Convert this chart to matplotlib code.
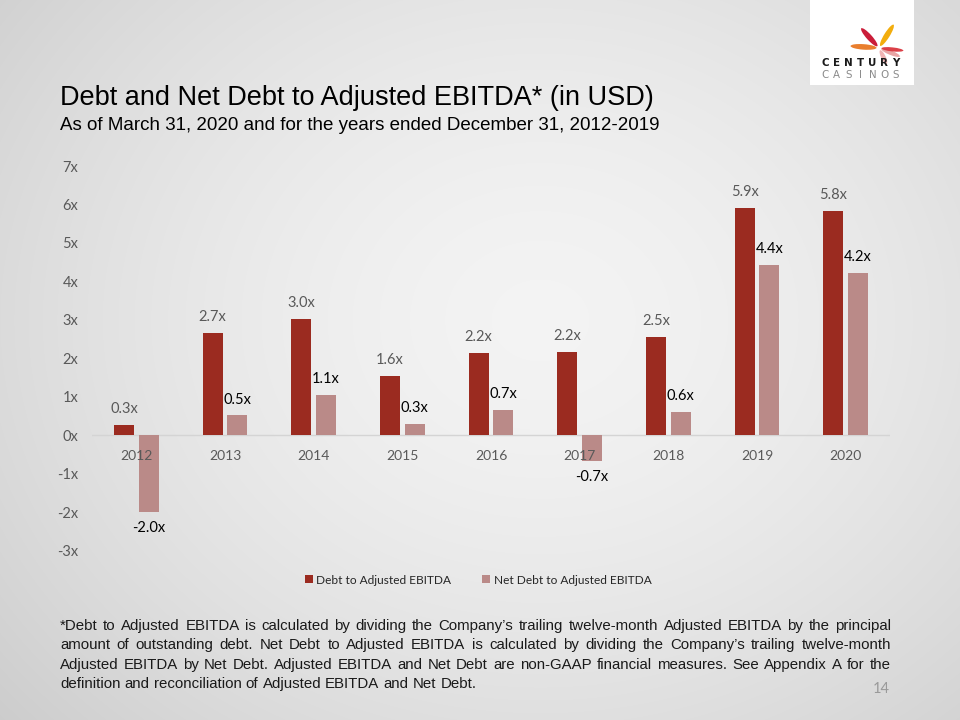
import numpy as np
import matplotlib
matplotlib.use("Agg")
import matplotlib.pyplot as plt
from matplotlib.patches import Rectangle, Ellipse

# ---------------- data ----------------
years = ['2012', '2013', '2014', '2015', '2016', '2017', '2018', '2019', '2020']
debt_to_ebitda = [0.28, 2.67, 3.03, 1.55, 2.15, 2.18, 2.55, 5.91, 5.83]
net_debt_to_ebitda = [-1.99, 0.52, 1.06, 0.31, 0.67, -0.67, 0.62, 4.43, 4.22]
debt_labels = ['0.3x', '2.7x', '3.0x', '1.6x', '2.2x', '2.2x', '2.5x', '5.9x', '5.8x']
net_labels = ['-2.0x', '0.5x', '1.1x', '0.3x', '0.7x', '-0.7x', '0.6x', '4.4x', '4.2x']
y_ticks = [-3, -2, -1, 0, 1, 2, 3, 4, 5, 6, 7]
y_tick_labels = ['-3x', '-2x', '-1x', '0x', '1x', '2x', '3x', '4x', '5x', '6x', '7x']
series_names = ['Debt to Adjusted EBITDA', 'Net Debt to Adjusted EBITDA']

title = 'Debt and Net Debt to Adjusted EBITDA* (in USD)'
subtitle = 'As of March 31, 2020 and for the years ended December 31, 2012-2019'
footnote_lines = [
    '*Debt to Adjusted EBITDA is calculated by dividing the Company\u2019s trailing twelve-month Adjusted EBITDA by the principal',
    'amount of outstanding debt. Net Debt to Adjusted EBITDA is calculated by dividing the Company\u2019s trailing twelve-month',
    'Adjusted EBITDA by Net Debt. Adjusted EBITDA and Net Debt are non-GAAP financial measures. See Appendix A for the',
    'definition and reconciliation of Adjusted EBITDA and Net Debt.',
]
page_number = '14'
logo_word1 = 'CENTURY'
logo_word2 = 'CASINOS'

DARK = '#9B2B20'
LIGHT = '#BA8A88'
GRAY = '#595959'
W, H = 960, 720

fig = plt.figure(figsize=(9.6, 7.2), dpi=100)

# ---------------- background gradient ----------------
bg = fig.add_axes([0, 0, 1, 1], zorder=-10)
yy, xx = np.mgrid[0:H, 0:W]
r = np.sqrt(((xx - 540) / 620.0) ** 2 + ((yy - 320) / 520.0) ** 2)
val = 0.955 - 0.12 * np.clip(r, 0, 1.4) ** 1.6
img = np.dstack([val, val, val])
bg.imshow(img, extent=[0, W, H, 0], aspect='auto')
bg.set_xlim(0, W)
bg.set_ylim(H, 0)
bg.axis('off')

# logo box
bg.add_patch(Rectangle((810, 0), 104, 85, facecolor='white', edgecolor='none'))
cx, cy = 879, 48
petals = [  # (angle deg, length, width, colour)
    (132, 24, 5.5, '#C8102E'),
    (58, 25, 5.5, '#F2A900'),
    (176, 26, 5.5, '#E87722'),
    (-22, 20, 4.5, '#E8A0A0'),
    (-64, 15, 4.5, '#F0B0B0'),
    (-6, 22, 4.0, '#D9363E'),
]
for ang, ln, wd, c in petals:
    a = np.deg2rad(ang)
    d = 2.5 + ln / 2
    bg.add_patch(Ellipse((cx + d * np.cos(a), cy - d * np.sin(a)), ln, wd, angle=-ang,
                         facecolor=c, edgecolor='none', alpha=0.95))
n1 = len(logo_word1)
for k, ch in enumerate(logo_word1):
    bg.text(825 + k * (71 / (n1 - 1)), 63, ch, ha='center', va='center', fontsize=7.4,
            fontweight='bold', color='#1a1a1a', family='DejaVu Sans')
n2 = len(logo_word2)
for k, ch in enumerate(logo_word2):
    bg.text(825 + k * (71 / (n2 - 1)), 74.5, ch, ha='center', va='center', fontsize=7.4,
            color='#8a8a8a', family='DejaVu Sans')

# ---------------- titles ----------------
bg.text(60, 98, title, ha='left', va='center', fontsize=19.5, color='black',
        family='Liberation Sans')
bg.text(60, 125, subtitle, ha='left', va='center', fontsize=13.5, color='black',
        family='Liberation Sans')

# ---------------- chart ----------------
ax = fig.add_axes([92 / W, 1 - 551 / H, (890 - 92) / W, (551 - 166) / H])
ax.patch.set_alpha(0)
x = np.arange(len(years))
bw = 0.225
off = 0.14
b1 = ax.bar(x - off, debt_to_ebitda, bw, color=DARK, label=series_names[0], zorder=3)
b2 = ax.bar(x + off, net_debt_to_ebitda, bw, color=LIGHT, label=series_names[1], zorder=3)
ax.set_xlim(-0.5, len(years) - 0.5)
ax.set_ylim(-3, 7)
ax.axhline(0, color='#D4D4D4', lw=1.0, zorder=2)
for s in ax.spines.values():
    s.set_visible(False)
ax.set_yticks(y_ticks)
ax.set_yticklabels(y_tick_labels, family='Lato', fontsize=10.5, color=GRAY)
ax.tick_params(axis='y', length=0, pad=10)
ax.set_xticks([])

for i, yr in enumerate(years):
    ax.annotate(yr, (i, 0), xytext=(0, -14.5), textcoords='offset points',
                ha='center', va='center', family='Lato', fontsize=10, color=GRAY, zorder=5)

for i in range(len(years)):
    v = debt_to_ebitda[i]
    ax.annotate(debt_labels[i], (x[i] - off, v), xytext=(0, 11.5 if v >= 0 else -11.5),
                textcoords='offset points', ha='center', va='center', family='Lato',
                fontsize=10.5, color=GRAY, zorder=5)
    v = net_debt_to_ebitda[i]
    ax.annotate(net_labels[i], (x[i] + off, v), xytext=(0, 11.5 if v >= 0 else -11.5),
                textcoords='offset points', ha='center', va='center', family='Lato',
                fontsize=10.5, color='black', zorder=5)

leg = fig.legend(handles=[b1, b2], labels=series_names, loc='center',
                 bbox_to_anchor=(478 / W, 1 - 580 / H), ncol=2, frameon=False,
                 prop={'family': 'Lato', 'size': 8.6}, handlelength=0.65, handleheight=0.65,
                 handletextpad=0.3, columnspacing=2.6)
for t in leg.get_texts():
    t.set_color('#262626')

# ---------------- justified footnote ----------------
renderer = fig.canvas.get_renderer()
fn_size = 10.8
fn_left, fn_right = 60, 891
fn_y0, fn_dy = 626, 19.3


def word_width(wd):
    t = bg.text(0, 0, wd, fontsize=fn_size, family='Liberation Sans')
    bb = t.get_window_extent(renderer=renderer)
    t.remove()
    return bb.width

space_w = word_width('a a') - word_width('aa')
for li, line in enumerate(footnote_lines):
    ycen = fn_y0 + li * fn_dy
    words = line.split(' ')
    widths = [word_width(w) for w in words]
    if li < len(footnote_lines) - 1 and len(words) > 1:
        gap = (fn_right - fn_left - sum(widths)) / (len(words) - 1)
    else:
        gap = space_w
    xpos = fn_left
    for w, ww in zip(words, widths):
        bg.text(xpos, ycen, w, ha='left', va='center', fontsize=fn_size,
                family='Liberation Sans', color='#1a1a1a')
        xpos += ww + gap

bg.text(890, 689, page_number, ha='right', va='center', fontsize=10.5, family='Lato',
        color='#9a9a9a')

fig.savefig('out.png', dpi=100)
